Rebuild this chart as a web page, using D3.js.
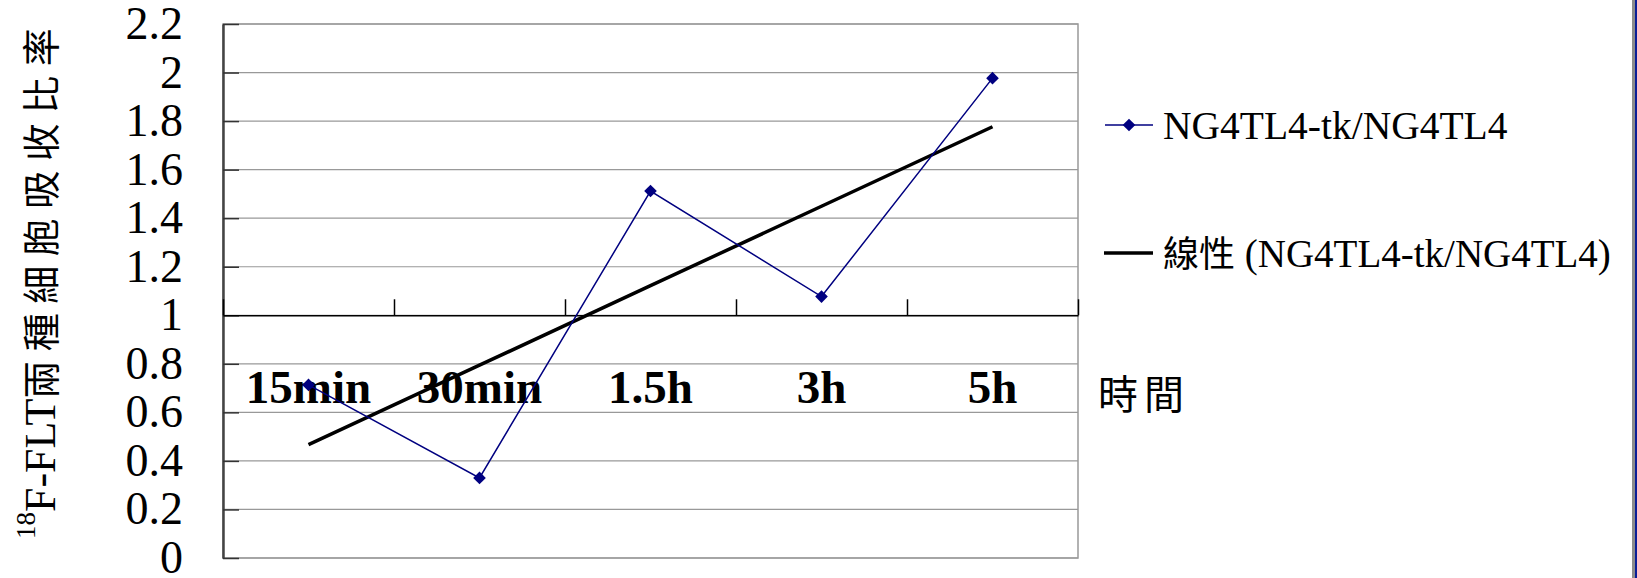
<!DOCTYPE html>
<meta charset="utf-8">
<style>
  body { margin: 0; background: #fff; }
  svg { display: block; }
  .serif { font-family: "Liberation Serif", "Times New Roman", serif; }
  .cjk { font-family: "Noto Sans CJK TC", "Noto Sans CJK SC", sans-serif; }
</style>

<body>
  <script src="https://d3js.org/d3.v7.min.js"></script>
  <script>
    // data
    var categories = ["15min", "30min", "1.5h", "3h", "5h"];
    var ratio = [0.713, 0.33, 1.512, 1.077, 1.977];
    var yTicks = [0, 0.2, 0.4, 0.6, 0.8, 1, 1.2, 1.4, 1.6, 1.8, 2, 2.2];
    var seriesName = "NG4TL4-tk/NG4TL4";
    var trendName = "線性 (NG4TL4-tk/NG4TL4)";
    var xTitle = "時間";

    var W = 1637, H = 578;
    var margin = { left: 223, right: 1078, top: 24, bottom: 558 };

    var svg = d3.select("body").append("svg")
      .attr("width", W)
      .attr("height", H);

    var x = d3.scaleBand()
      .domain(categories)
      .range([margin.left, margin.right])
      .padding(0);

    // category boundaries for the tick marks on the x axis
    var xb = d3.scaleLinear()
      .domain([0, categories.length])
      .range([margin.left, margin.right]);

    var y = d3.scaleLinear()
      .domain([0, 2.2])
      .range([margin.bottom, margin.top]);

    function cx(i) { return x(categories[i]) + x.bandwidth() / 2; }

    // grid lines
    svg.append("g")
      .selectAll("line")
      .data(yTicks)
      .enter()
      .append("line")
      .attr("x1", margin.left)
      .attr("x2", margin.right)
      .attr("y1", function (d) { return y(d); })
      .attr("y2", function (d) { return y(d); })
      .style("stroke", "#999")
      .style("stroke-width", 1.2);

    // plot frame (top / right / bottom)
    svg.append("rect")
      .attr("x", margin.left)
      .attr("y", margin.top)
      .attr("width", margin.right - margin.left)
      .attr("height", margin.bottom - margin.top)
      .style("fill", "none")
      .style("stroke", "#999")
      .style("stroke-width", 1.5);

    // y axis with inner ticks
    var yAxis = d3.axisRight(y)
      .tickValues(yTicks)
      .tickSize(16)
      .tickSizeOuter(0)
      .tickFormat("");

    var gy = svg.append("g")
      .attr("transform", "translate(" + margin.left + ",0)")
      .call(yAxis);
    gy.select(".domain").style("stroke", "#444").style("stroke-width", 2.5);
    gy.selectAll(".tick line").style("stroke", "#333").style("stroke-width", 1.5);

    // y tick labels
    svg.append("g")
      .selectAll("text")
      .data(yTicks)
      .enter()
      .append("text")
      .attr("class", "serif")
      .attr("x", 183)
      .attr("y", function (d) { return y(d) + 15; })
      .attr("text-anchor", "end")
      .style("font-size", "46px")
      .text(function (d) { return String(+d.toFixed(1)); });

    // x axis crossing at 1
    var xAxis = d3.axisTop(xb)
      .tickValues(d3.range(categories.length + 1))
      .tickSize(16)
      .tickSizeOuter(0)
      .tickFormat("");

    var gx = svg.append("g")
      .attr("transform", "translate(0," + y(1) + ")")
      .call(xAxis);
    gx.select(".domain").style("stroke", "#000").style("stroke-width", 1.5);
    gx.selectAll(".tick line").style("stroke", "#000").style("stroke-width", 1.5);

    // category labels
    svg.append("g")
      .selectAll("text")
      .data(categories)
      .enter()
      .append("text")
      .attr("class", "serif")
      .attr("x", function (d, i) { return cx(i); })
      .attr("y", 403)
      .attr("text-anchor", "middle")
      .style("font-size", "47px")
      .style("font-weight", "bold")
      .text(function (d) { return d; });

    // linear trend (least squares over category index)
    var xs = d3.range(1, ratio.length + 1);
    var mx = d3.mean(xs), my = d3.mean(ratio);
    var slope = d3.sum(xs, function (v, i) { return (v - mx) * (ratio[i] - my); }) /
      d3.sum(xs, function (v) { return (v - mx) * (v - mx); });
    var icpt = my - slope * mx;
    var trend = xs.map(function (v) { return icpt + slope * v; });

    var line = d3.line()
      .x(function (d, i) { return cx(i); })
      .y(function (d) { return y(d); });

    svg.append("path")
      .datum(trend)
      .attr("d", line)
      .style("fill", "none")
      .style("stroke", "#000")
      .style("stroke-width", 3.5);

    svg.append("path")
      .datum(ratio)
      .attr("d", line)
      .style("fill", "none")
      .style("stroke", "#000080")
      .style("stroke-width", 1.5);

    // square turned 45 degrees, like the Excel diamond marker
    var diamond = d3.symbol().type(d3.symbolSquare).size(80);

    svg.append("g")
      .selectAll("path")
      .data(ratio)
      .enter()
      .append("path")
      .attr("d", diamond)
      .attr("transform", function (d, i) {
        return "translate(" + cx(i) + "," + y(d) + ") rotate(45)";
      })
      .style("fill", "#000080");

    // legend
    var lg = svg.append("g");
    lg.append("line")
      .attr("x1", 1105).attr("x2", 1153)
      .attr("y1", 125).attr("y2", 125)
      .style("stroke", "#000080").style("stroke-width", 1.5);
    lg.append("path")
      .attr("d", diamond)
      .attr("transform", "translate(1129,125) rotate(45)")
      .style("fill", "#000080");
    lg.append("text")
      .attr("class", "serif")
      .attr("x", 1163).attr("y", 139)
      .style("font-size", "39.5px")
      .text(seriesName);

    lg.append("line")
      .attr("x1", 1104).attr("x2", 1153)
      .attr("y1", 253).attr("y2", 253)
      .style("stroke", "#000").style("stroke-width", 3.5);
    var t2 = lg.append("text")
      .attr("x", 1163).attr("y", 267)
      .style("font-size", "39px");
    t2.append("tspan").attr("class", "cjk").style("font-size", "36px").text(trendName.slice(0, 2));
    t2.append("tspan").attr("class", "serif").text(trendName.slice(2));

    // x axis title
    svg.append("text")
      .attr("class", "cjk")
      .attr("x", 1098).attr("y", 409)
      .style("font-size", "40px")
      .style("letter-spacing", "6px")
      .text(xTitle);

    // y axis title
    var yt = svg.append("text")
      .attr("transform", "translate(55,539) rotate(-90)")
      .attr("text-anchor", "start");
    yt.append("tspan").attr("class", "serif").attr("dy", -20)
      .style("font-size", "27px").text("18");
    yt.append("tspan").attr("class", "serif").attr("dy", 20)
      .style("font-size", "44px").text("F-FLT");
    yt.append("tspan").attr("class", "cjk")
      .style("font-size", "38px").style("letter-spacing", "9.5px").text("兩種細胞吸收比率");

    // slide frame on the right edge
    svg.append("rect").attr("x", 1632).attr("y", 0).attr("width", 3).attr("height", H).style("fill", "#8c8c8c");
    svg.append("rect").attr("x", 1635).attr("y", 0).attr("width", 2).attr("height", H).style("fill", "#0a1e96");
  </script>
</body>
